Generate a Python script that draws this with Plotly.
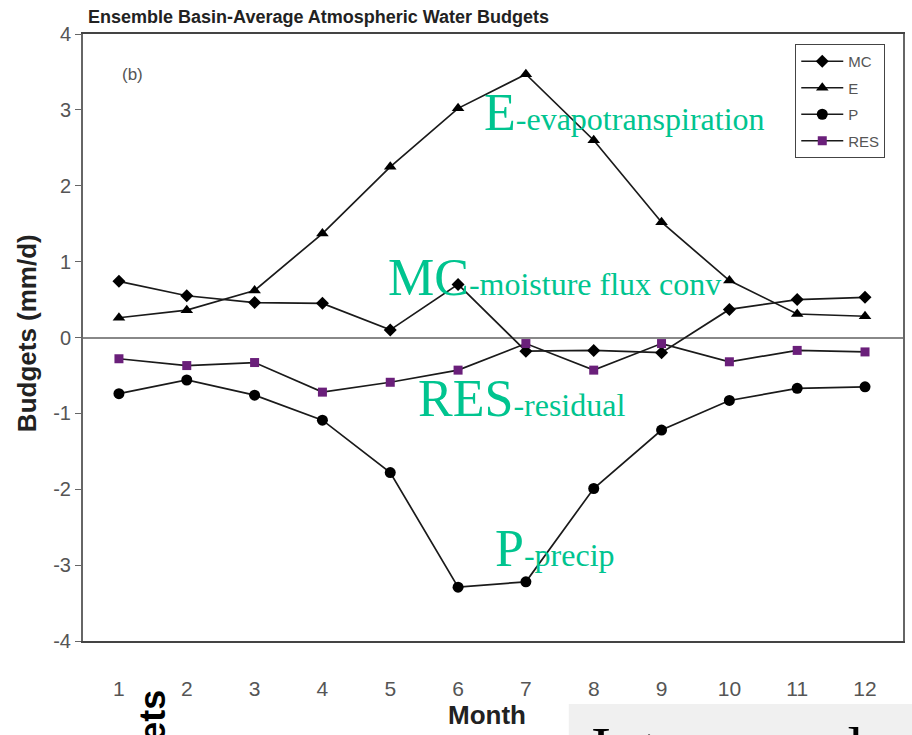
import plotly.graph_objects as go

months = list(range(1, 13))
mc = [0.74, 0.55, 0.46, 0.45, 0.10, 0.70, -0.18, -0.17, -0.20, 0.37, 0.50, 0.53]
e = [0.26, 0.36, 0.62, 1.37, 2.25, 3.02, 3.47, 2.60, 1.52, 0.75, 0.31, 0.28]
p = [-0.74, -0.56, -0.76, -1.09, -1.78, -3.29, -3.22, -1.99, -1.22, -0.83, -0.67, -0.65]
res = [-0.28, -0.37, -0.33, -0.72, -0.59, -0.43, -0.08, -0.43, -0.08, -0.32, -0.17, -0.19]
y_ticks = [-4, -3, -2, -1, 0, 1, 2, 3, 4]
y_ticktext = ["-4", "-3", "-2", "-1", "0", "1", "2", "3", "4"]

W, H = 912, 735
L, R, T, B = 83, 905, 34, 641


def px(x, y):
    return (x - L) / (R - L), (B - y) / (B - T)


fig = go.Figure()
series = [
    ("MC", mc, "diamond", 10, "black"),
    ("E", e, "triangle-up", 11, "black"),
    ("P", p, "circle", 11, "black"),
    ("RES", res, "square", 9, "#6a1f7a"),
]
for name, vals, sym, size, col in series:
    fig.add_trace(go.Scatter(
        x=months, y=vals, name=name, legendgroup=name,
        mode="lines+markers",
        line=dict(color="#1a1a1a", width=1.7),
        marker=dict(symbol=sym, size=size, color=col, line=dict(width=0)),
    ))

annotations = []
green = "#00c48f"
serif = "Liberation Serif"
labels = [
    ("E", "-evapotranspiration", 483, 112),
    ("MC", "-moisture flux conv", 387, 277),
    ("RES", "-residual", 417, 398),
    ("P", "-precip", 494, 548),
]
for big, small, x0, yc in labels:
    ax, ay = px(x0, yc)
    annotations.append(dict(
        x=ax, y=ay, xref="paper", yref="paper", xanchor="left", yanchor="middle",
        text=f"{big}<span style='font-size:32px'>{small}</span>",
        showarrow=False, font=dict(family=serif, size=52, color=green),
    ))

# title
tx, ty = px(86, 17)
annotations.append(dict(x=tx, y=ty, xref="paper", yref="paper", xanchor="left", yanchor="middle",
                        text="<b>Ensemble Basin-Average Atmospheric Water Budgets</b>", showarrow=False,
                        font=dict(family="Liberation Sans", size=18, color="#222")))
# (b)
bx, by = px(120, 75)
annotations.append(dict(x=bx, y=by, xref="paper", yref="paper", xanchor="left", yanchor="middle",
                        text="(b)", showarrow=False,
                        font=dict(family="Liberation Sans", size=17, color="#555")))
# y title
yx, yy = px(27, 333)
annotations.append(dict(x=yx, y=yy, xref="paper", yref="paper", xanchor="center", yanchor="middle",
                        text="<b>Budgets (mm/d)</b>", textangle=-90, showarrow=False,
                        font=dict(family="Liberation Sans", size=26, color="#222")))
# x title
mx, my = px(488, 715)
annotations.append(dict(x=mx, y=my, xref="paper", yref="paper", xanchor="center", yanchor="middle",
                        text="<b>Month</b>", showarrow=False,
                        font=dict(family="Liberation Sans", size=26, color="#222")))
# clipped slide fragments
ex, ey = px(152, 688)
annotations.append(dict(x=ex, y=ey, xref="paper", yref="paper", xanchor="center", yanchor="top",
                        text="<b>Budgets</b>", textangle=-90, showarrow=False,
                        font=dict(family="Liberation Sans", size=36, color="black")))
ix, iy = px(590, 713)
annotations.append(dict(x=ix, y=iy, xref="paper", yref="paper", xanchor="left", yanchor="top",
                        text="Interannual", showarrow=False,
                        font=dict(family=serif, size=60, color="black")))

bx0, by0 = px(570, 704)
bx1, by1 = px(915, 740)
shapes = [dict(type="rect", xref="paper", yref="paper", x0=bx0, y0=by1, x1=bx1, y1=by0,
               fillcolor="#f0f0f0", line=dict(width=0), layer="below")]

lx, ly = px(797, 44)
fig.update_layout(
    width=W, height=H,
    margin=dict(l=L, r=W - R, t=T, b=H - B),
    paper_bgcolor="white", plot_bgcolor="white",
    showlegend=True,
    legend=dict(x=lx, y=ly, xanchor="left", yanchor="top",
                bgcolor="white", bordercolor="#444", borderwidth=1,
                font=dict(family="Liberation Sans", size=15, color="#555"),
                tracegroupgap=4, itemwidth=42),
    annotations=annotations,
    shapes=shapes,
)
fig.update_xaxes(range=[0.47, 12.56], tickvals=months, ticks="", showgrid=False,
                 zeroline=False, showline=True, linecolor="#444", linewidth=2, mirror=True,
                 ticklabelstandoff=28,
                 tickfont=dict(family="Liberation Sans", size=21, color="#555"))
fig.update_yaxes(range=[-4, 4], tickvals=y_ticks, ticktext=y_ticktext, ticks="outside", ticklen=6,
                 tickcolor="#666",
                 showgrid=False, zeroline=True, zerolinecolor="#888", zerolinewidth=2,
                 showline=True, linecolor="#666", linewidth=2, mirror=True,
                 tickfont=dict(family="Liberation Sans", size=20, color="#555"))

fig.write_html("out.html")
